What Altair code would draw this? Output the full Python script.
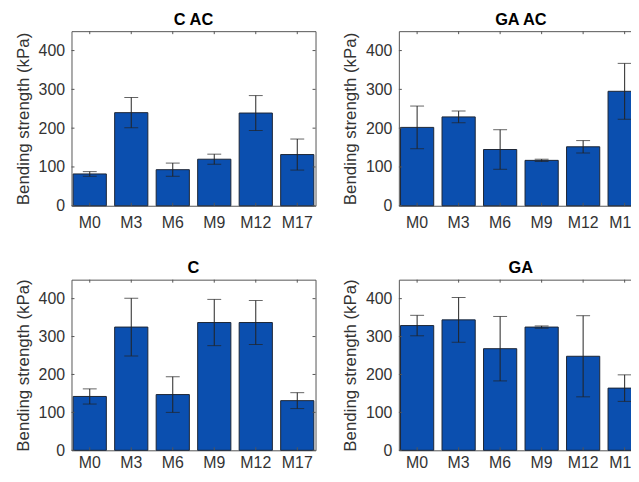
import altair as alt
import pandas as pd

cats = ["M0", "M3", "M6", "M9", "M12", "M17"]
yticks = [0, 100, 200, 300, 400]

cac_mean = [82, 240, 93, 120, 239, 132]
cac_err = [6, 39, 17, 13, 45, 40]
gaac_mean = [202, 229, 145, 117, 152, 295]
gaac_err = [55, 15, 51, 3, 16, 72]
c_mean = [142, 325, 147, 337, 337, 131]
c_err = [20, 76, 47, 61, 58, 21]
ga_mean = [329, 344, 268, 325, 248, 164]
ga_err = [27, 59, 85, 3, 107, 35]

FONT = "Liberation Sans"
BAR = "#0B4FAF"
EDGE = "#1c2535"
AX = "#555555"
W = 246
TL = 3


def panel(title, means, errs, H, lpad):
    df = pd.DataFrame({
        "cat": cats,
        "mean": means,
        "lo": [m - e for m, e in zip(means, errs)],
        "hi": [m + e for m, e in zip(means, errs)],
    })
    tdf = pd.DataFrame({"v": yticks})
    xs = alt.Scale(domain=cats, paddingInner=0.2, paddingOuter=0.04)
    ys = alt.Scale(domain=[0, 450])
    x = alt.X("cat:N", scale=xs, sort=cats, title=None,
              axis=alt.Axis(labelAngle=0, tickSize=0, domain=False,
                            labelPadding=lpad, labelFontSize=16, labelFont=FONT,
                            labelColor="#333333"))
    y_axis = alt.Axis(values=yticks, grid=False, tickSize=0, domain=False,
                      labelPadding=7, labelFontSize=16, labelFont=FONT,
                      labelColor="#333333", title="Bending strength (kPa)",
                      titleFontSize=17, titleFont=FONT, titleFontWeight="normal",
                      titleColor="#333333", titlePadding=6)
    base = alt.Chart(df)
    bars = base.mark_bar(color=BAR, stroke=EDGE, strokeWidth=1).encode(
        x=x, y=alt.Y("mean:Q", scale=ys, axis=y_axis))
    err = base.mark_rule(color="#222222", strokeWidth=1).encode(
        x=alt.X("cat:N", scale=xs, sort=cats), y=alt.Y("lo:Q", scale=ys), y2="hi:Q")
    cap_hi = base.mark_tick(color="#222222", size=14, thickness=1).encode(
        x=alt.X("cat:N", scale=xs, sort=cats), y=alt.Y("hi:Q", scale=ys))
    cap_lo = base.mark_tick(color="#222222", size=14, thickness=1).encode(
        x=alt.X("cat:N", scale=xs, sort=cats), y=alt.Y("lo:Q", scale=ys))
    tk = alt.Chart(tdf)
    yl = tk.mark_rule(color=AX, strokeWidth=1).encode(
        y=alt.Y("v:Q", scale=ys), x=alt.value(0), x2=alt.value(TL))
    yr = tk.mark_rule(color=AX, strokeWidth=1).encode(
        y=alt.Y("v:Q", scale=ys), x=alt.value(W - TL), x2=alt.value(W))
    xb = base.mark_rule(color=AX, strokeWidth=1).encode(
        x=alt.X("cat:N", scale=xs, sort=cats), y=alt.value(H - TL), y2=alt.value(H))
    xt = base.mark_rule(color=AX, strokeWidth=1).encode(
        x=alt.X("cat:N", scale=xs, sort=cats), y=alt.value(0), y2=alt.value(TL))
    return alt.layer(bars, err, cap_hi, cap_lo, yl, yr, xb, xt).properties(
        width=W, height=H,
        title=alt.TitleParams(title, fontSize=16.5, fontWeight="bold", font=FONT,
                              color="#000000", offset=2))


top = alt.hconcat(panel("C AC", cac_mean, cac_err, 176, 9),
                  panel("GA AC", gaac_mean, gaac_err, 176, 9),
                  spacing=24).resolve_scale(x="independent", y="independent")
bot = alt.hconcat(panel("C", c_mean, c_err, 172, 4),
                  panel("GA", ga_mean, ga_err, 172, 4),
                  spacing=24).resolve_scale(x="independent", y="independent")
chart = alt.vconcat(top, bot, spacing=28.5).resolve_scale(
    x="independent", y="independent").properties(
    padding={"left": 5, "top": 1.5, "right": -13, "bottom": -2.5},
    background="white",
).configure_view(stroke=AX, strokeWidth=1)

chart.save("out.html", embed_options={"renderer": "svg", "actions": False})
